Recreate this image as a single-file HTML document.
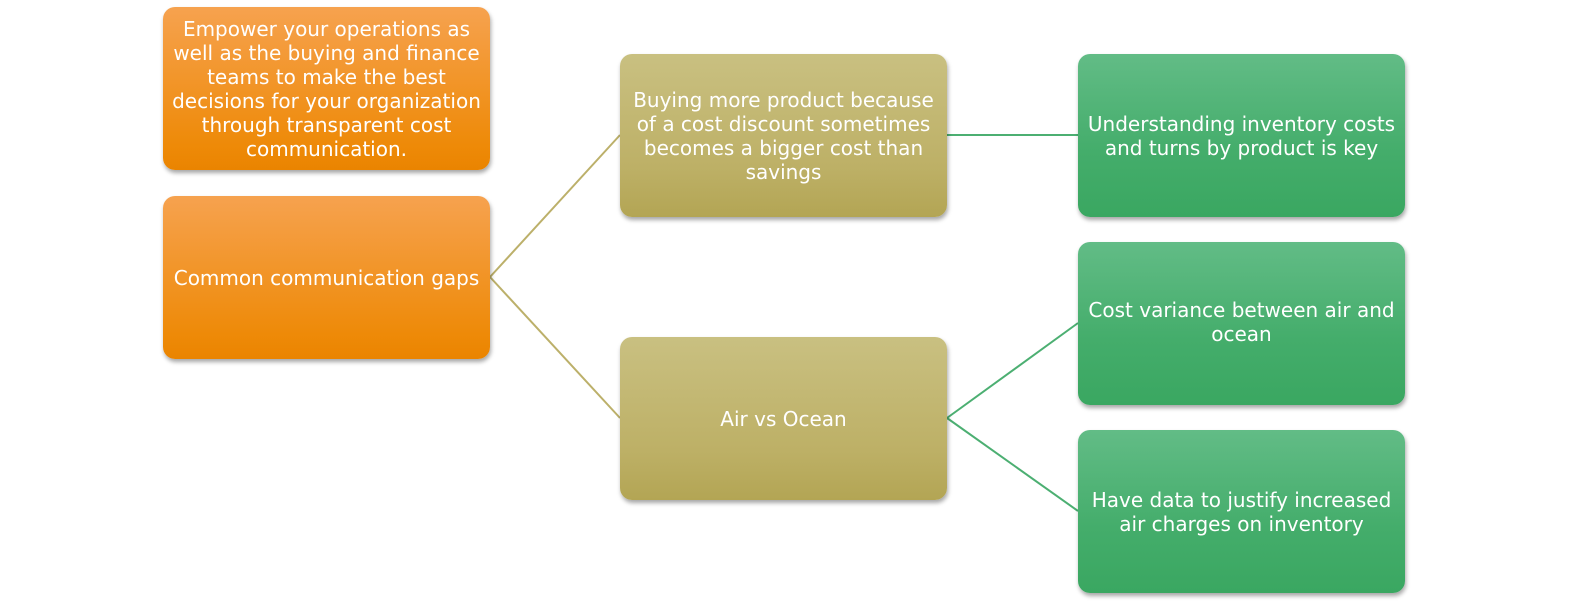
<!DOCTYPE html>
<html><head><style>
html,body{margin:0;padding:0;background:#fff;}
body{width:1577px;height:609px;position:relative;overflow:hidden;font-family:"DejaVu Sans","Liberation Sans",sans-serif;}
.b{position:absolute;width:327px;height:163px;border-radius:12px;display:flex;align-items:center;justify-content:center;text-align:center;color:#fff;font-size:20px;line-height:24px;box-sizing:border-box;padding:0 4px;box-shadow:1px 3px 4px rgba(0,0,0,0.35);}
.o{background:linear-gradient(#f6a24f,#ee8a08 85%,#ea8400);}
.y{background:linear-gradient(#c9c081,#bdb066 70%,#b3a554);}
.g{background:linear-gradient(#62bc86,#44ad6b 60%,#3aa761);}
svg{position:absolute;left:0;top:0;}
</style></head><body>
<svg width="1577" height="609">
<line x1="490" y1="277" x2="620" y2="135" stroke="#bcb06a" stroke-width="2"/>
<line x1="490" y1="277" x2="620" y2="418" stroke="#bcb06a" stroke-width="2"/>
<line x1="947" y1="135" x2="1078" y2="135" stroke="#4caf72" stroke-width="2"/>
<line x1="947" y1="418" x2="1078" y2="323" stroke="#4caf72" stroke-width="2"/>
<line x1="947" y1="418" x2="1078" y2="511" stroke="#4caf72" stroke-width="2"/>
</svg>
<div class="b o" style="left:163px;top:7px;">Empower your operations as well as the buying and finance teams to make the best decisions for your organization through transparent cost communication.</div>
<div class="b o" style="left:163px;top:196px;">Common communication gaps</div>
<div class="b y" style="left:620px;top:54px;">Buying more product because of a cost discount sometimes becomes a bigger cost than savings</div>
<div class="b y" style="left:620px;top:337px;">Air vs Ocean</div>
<div class="b g" style="left:1078px;top:54px;">Understanding inventory costs and turns by product is key</div>
<div class="b g" style="left:1078px;top:242px;align-items:flex-start;padding-top:56px;">Cost variance between air and ocean</div>
<div class="b g" style="left:1078px;top:430px;">Have data to justify increased air charges on inventory</div>
</body></html>
